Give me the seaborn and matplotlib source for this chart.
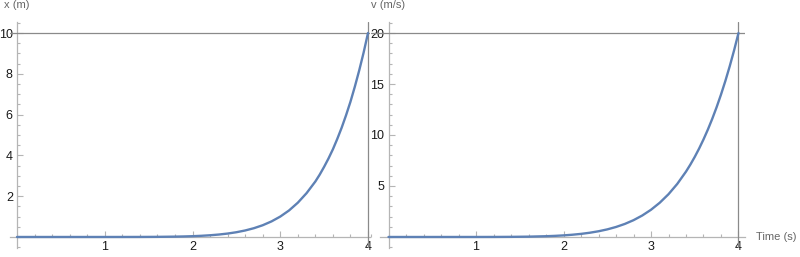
import matplotlib
matplotlib.use("Agg")
import matplotlib.pyplot as plt
from matplotlib.ticker import MultipleLocator, FixedLocator
import seaborn as sns
import pandas as pd

# ---- data ----
time_s = [0.0, 0.5, 1.0, 1.2, 1.4, 1.6, 1.8, 1.9, 2.0, 2.1, 2.2, 2.3, 2.4, 2.5,
          2.6, 2.7, 2.8, 2.9, 3.0, 3.1, 3.2, 3.3, 3.4, 3.45, 3.5, 3.55, 3.6, 3.65,
          3.7, 3.75, 3.8, 3.85, 3.9, 3.95, 4.0]
position_m = [0.0, 0.0, 0.0002, 0.0007, 0.002, 0.0066, 0.017, 0.026, 0.039, 0.058,
              0.084, 0.120, 0.168, 0.233, 0.319, 0.431, 0.576, 0.763, 1.00, 1.30,
              1.68, 2.15, 2.72, 3.06, 3.44, 3.85, 4.30, 4.81, 5.36, 5.97, 6.63,
              7.37, 8.17, 9.04, 10.0]
velocity_ms = [0.0, 0.0, 0.0012, 0.004, 0.013, 0.033, 0.075, 0.109, 0.156, 0.220,
               0.304, 0.416, 0.560, 0.745, 0.981, 1.277, 1.647, 2.106, 2.670, 3.359,
               4.194, 5.203, 6.412, 7.101, 7.854, 8.673, 9.566, 10.535, 11.589,
               12.730, 13.967, 15.305, 16.752, 18.314, 20.0]
x_ticks = [1, 2, 3, 4]
left_yticks = [2, 4, 6, 8, 10]
right_yticks = [5, 10, 15, 20]
left_label = "x (m)"
right_label = "v (m/s)"
time_label = "Time (s)"
ref_time = 4
ref_x = 10
ref_v = 20

df = pd.DataFrame({"t": time_s, "x": position_m, "v": velocity_ms})

sns.set_theme(style="white")
plt.rcParams["font.family"] = ["Liberation Sans", "DejaVu Sans"]

W, H = 800, 257
fig = plt.figure(figsize=(W / 100, H / 100), dpi=100)

curve_color = "#5E81B5"
axis_color = "#b5b5b5"
grid_color = "#8a8a8a"
label_color = "#1a1a1a"
title_color = "#666666"


def px_axes(left_px, right_px, top_px, bottom_px):
    return fig.add_axes([left_px / W, (H - bottom_px) / H,
                         (right_px - left_px) / W, (bottom_px - top_px) / H])


def style(ax, xlim, ylim, yticks, ymin_step, xbounds):
    ax.set_xlim(*xlim)
    ax.set_ylim(*ylim)
    for s in ["top", "right"]:
        ax.spines[s].set_visible(False)
    ax.spines["left"].set_position(("data", 0))
    ax.spines["bottom"].set_position(("data", 0))
    ax.spines["bottom"].set_bounds(*xbounds)
    for s in ["left", "bottom"]:
        ax.spines[s].set_color(axis_color)
        ax.spines[s].set_linewidth(0.9)
        ax.spines[s].set_zorder(1)
    ax.xaxis.set_major_locator(FixedLocator(x_ticks))
    ax.xaxis.set_minor_locator(MultipleLocator(0.2))
    ax.yaxis.set_major_locator(FixedLocator(yticks))
    ax.yaxis.set_minor_locator(MultipleLocator(ymin_step))
    ax.tick_params(which="both", direction="in", color=axis_color, width=0.8,
                   labelsize=9, labelcolor=label_color, bottom=True, left=True)
    ax.tick_params(which="major", length=4, pad=3)
    ax.tick_params(which="minor", length=2)
    ax.set_xlabel("")
    ax.set_ylabel("")
    ax.patch.set_alpha(0)


# left panel: position
ax1 = px_axes(9.98, 9.98 + 4.10 * 87.75, 22, 248)
ax1.axhline(ref_x, color=grid_color, lw=0.9, zorder=2)
ax1.axvline(ref_time, color=grid_color, lw=0.9, zorder=2)
sns.lineplot(data=df, x="t", y="x", ax=ax1, color=curve_color, lw=1.7,
             estimator=None, sort=True, zorder=3)
style(ax1, (-0.08, 4.02), (-0.54, 10.54), left_yticks, 0.5, (-0.08, 4.02))
ax1.text(0, 10.54 + 0.6, left_label, ha="center", va="bottom", fontsize=8,
         color=title_color, clip_on=False)

# right panel: velocity
ax2 = px_axes(388.5 - 0.2 * 87.5, 388.5 + 4.074 * 87.5, 22, 248)
ax2.axhline(ref_v, color=grid_color, lw=0.9, zorder=2)
ax2.axvline(ref_time, color=grid_color, lw=0.9, zorder=2)
sns.lineplot(data=df, x="t", y="v", ax=ax2, color=curve_color, lw=1.7,
             estimator=None, sort=True, zorder=3)
style(ax2, (-0.2, 4.074), (-1.08, 21.08), right_yticks, 1, (-0.1, 4.074))
ax2.text(0, 21.08 + 1.2, right_label, ha="center", va="bottom", fontsize=8,
         color=title_color, clip_on=False)
ax2.text(4.074 + 0.13, 0, time_label, ha="left", va="center", fontsize=8,
         color=title_color, clip_on=False)

fig.savefig("out.png", dpi=100)
